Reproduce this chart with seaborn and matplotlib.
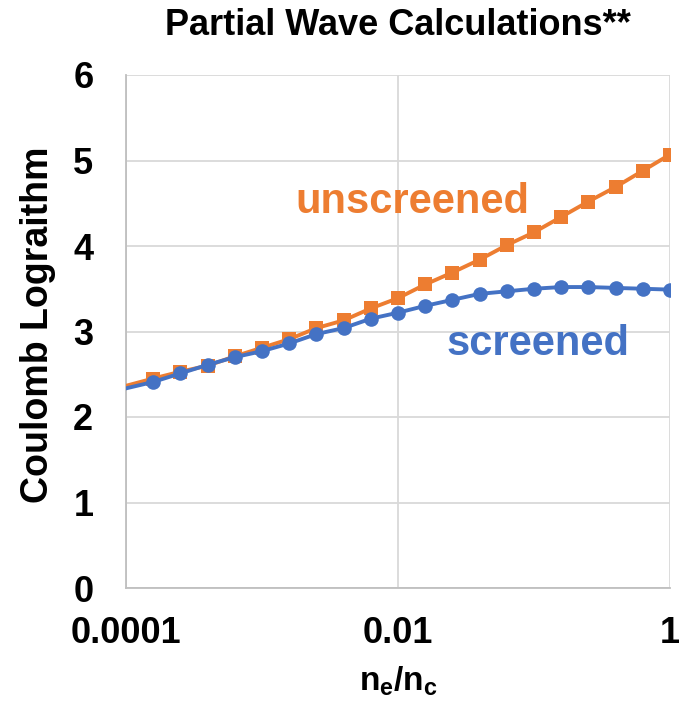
import matplotlib
matplotlib.use("Agg")
import matplotlib.pyplot as plt
import pandas as pd
import seaborn as sns

# electron density relative to critical density (0.2-decade steps)
density = [10 ** -4.2, 10 ** -3.8, 10 ** -3.6, 10 ** -3.4, 10 ** -3.2,
           10 ** -3.0, 10 ** -2.8, 10 ** -2.6, 10 ** -2.4, 10 ** -2.2,
           10 ** -2.0, 10 ** -1.8, 10 ** -1.6, 10 ** -1.4, 10 ** -1.2,
           10 ** -1.0, 10 ** -0.8, 10 ** -0.6, 10 ** -0.4, 10 ** -0.2, 1.0]
unscreened = [2.28, 2.45, 2.53, 2.60, 2.71, 2.81, 2.91, 3.04, 3.13, 3.27, 3.39,
              3.55, 3.69, 3.84, 4.01, 4.16, 4.34, 4.52, 4.69, 4.88, 5.07]
screened = [2.26, 2.41, 2.51, 2.61, 2.70, 2.77, 2.86, 2.97, 3.04, 3.15, 3.22,
            3.30, 3.37, 3.44, 3.47, 3.50, 3.52, 3.52, 3.51, 3.50, 3.49]

x_ticks = [1e-4, 1e-2, 1]
x_tick_labels = ["0.0001", "0.01", "1"]
y_ticks = [0, 1, 2, 3, 4, 5, 6]

ORANGE = "#ED7D31"
BLUE = "#4472C4"
GRID = "#D9D9D9"

sns.set_style("white")
plt.rcParams["font.family"] = ["Liberation Sans", "DejaVu Sans"]
plt.rcParams["font.weight"] = "bold"
plt.rcParams["mathtext.fontset"] = "custom"
plt.rcParams["mathtext.rm"] = "Liberation Sans:bold"
plt.rcParams["mathtext.bf"] = "Liberation Sans:bold"
plt.rcParams["text.color"] = "black"

df_u = pd.DataFrame({"density": density, "value": unscreened})
df_s = pd.DataFrame({"density": density, "value": screened})

fig = plt.figure(figsize=(6.82, 7.06), dpi=100)
ax = fig.add_axes([126 / 682, 1 - 588 / 706, (670 - 126) / 682, (588 - 75) / 706])

sns.lineplot(data=df_u, x="density", y="value", ax=ax, color=ORANGE,
             linewidth=2.8, marker="s", markersize=9.5, markeredgewidth=0,
             zorder=3)
sns.lineplot(data=df_s, x="density", y="value", ax=ax, color=BLUE,
             linewidth=2.8, marker="o", markersize=10.5, markeredgewidth=0,
             zorder=4)

ax.set_xscale("log")
ax.set_xlim(1e-4, 1)
ax.set_ylim(0, 6)

ax.set_xticks(x_ticks)
ax.set_xticklabels(x_tick_labels)
ax.minorticks_off()
ax.set_yticks(y_ticks)
ax.tick_params(axis="x", labelsize=26, length=0, pad=20, labelcolor="black")
ax.tick_params(axis="y", labelsize=26, length=0, pad=23.5, labelcolor="black")
for lbl in ax.get_xticklabels() + ax.get_yticklabels():
    lbl.set_fontweight("bold")

ax.grid(True, which="major", color=GRID, linewidth=1.3, zorder=0)
ax.set_axisbelow(True)
for side in ["top", "right"]:
    ax.spines[side].set_visible(False)
for side in ["left", "bottom"]:
    ax.spines[side].set_color("#BFBFBF")
    ax.spines[side].set_linewidth(1.3)

ax.set_xlabel(r"n$_\mathregular{e}$/n$_\mathregular{c}$", fontsize=24,
              fontweight="bold", color="black")
ax.xaxis.set_label_coords(0.5, -0.148)
ax.set_ylabel("Coulomb Lograithm", fontsize=27, fontweight="bold",
              color="black")
ax.yaxis.set_label_coords(-0.129, 0.514)

fig.text(398 / 682, 1 - 35 / 706, "Partial Wave Calculations**", fontsize=26,
         fontweight="bold", color="black", ha="center", va="baseline")

ax.text(10 ** -1.894, 4.386, "unscreened", color=ORANGE, fontsize=30,
        fontweight="bold", ha="center", va="baseline")
ax.text(10 ** -0.967, 2.725, "screened", color=BLUE, fontsize=30,
        fontweight="bold", ha="center", va="baseline")

fig.savefig("out.png", dpi=100)
